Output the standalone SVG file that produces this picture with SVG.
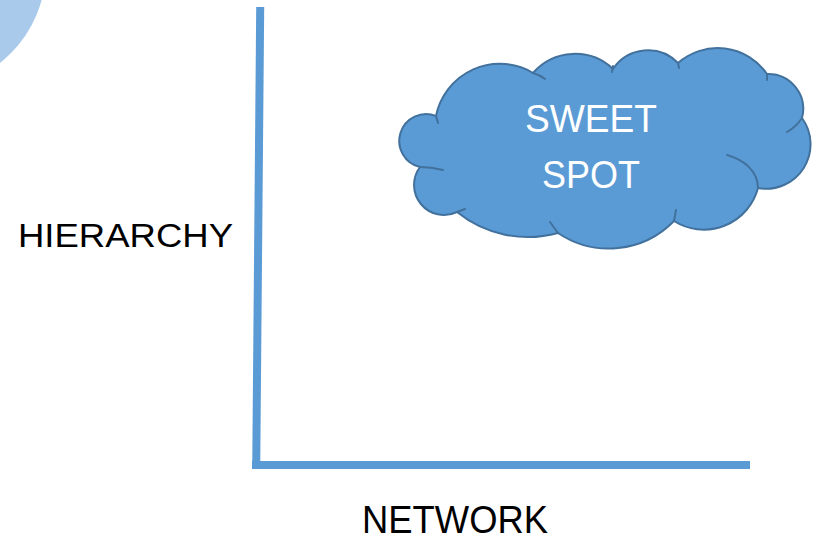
<svg xmlns="http://www.w3.org/2000/svg" width="822" height="540" viewBox="0 0 822 540">
<style>
.axis{stroke:#5B9BD5;stroke-width:8;fill:none;stroke-linecap:butt}
.cloud{fill:#5B9BD5;stroke:#41719C;stroke-width:2;stroke-linejoin:round}
.hook{fill:none;stroke:#41719C;stroke-width:2;stroke-linecap:round}
.lbl{font-family:"Liberation Sans",Arial,sans-serif;fill:#000}
.ctext{font-family:"Liberation Sans",Arial,sans-serif;fill:#FFFFFF;text-anchor:middle}
</style>
<rect width="822" height="540" fill="#FFFFFF"/>
<g id="corner-circle">
<circle cx="-75" cy="-32" r="121" fill="#A9CAEA"/>
</g>
<g id="connectors">
<path class="axis" d="M260.2,7 L256.2,469"/>
<path class="axis" d="M252,465 L750,465"/>
</g>
<g id="sweet-spot">
<path class="cloud" d="M436,116 A65,65 0 0 1 533,73 A55.5,55.5 0 0 1 613,69 A42,42 0 0 1 678,63 A60,60 0 0 1 767,74 A35,35 0 0 1 802,118 A44.5,44.5 0 0 1 758,188 A56,56 0 0 1 674,221 A91,91 0 0 1 558,233 A113,113 0 0 1 457,212 A30,30 0 0 1 420,167 A26.8,26.8 0 1 1 436,116 Z"/>
<path class="hook" d="M436,116 L438,123 M420,167 Q431,167 443,170 M457,212 L465,209 M558,233 L550,222 M674,221 L676,210 M727,155 C745,160 758,172 758,188 M802,118 Q796,127 787,132 M767,74 L767,80 M678,63 L679,68 M613,66 L612,72 M533,73 Q540,75 545,79"/>
<text class="ctext" x="591" y="132" font-size="39" textLength="132" lengthAdjust="spacingAndGlyphs">SWEET</text>
<text class="ctext" x="591" y="188" font-size="39" textLength="98" lengthAdjust="spacingAndGlyphs">SPOT</text>
</g>
<g id="hierarchy-label">
<text class="lbl" x="18" y="247" font-size="33.5" textLength="215" lengthAdjust="spacingAndGlyphs">HIERARCHY</text>
</g>
<g id="network-label">
<text class="lbl" x="362" y="533" font-size="39.5" textLength="186" lengthAdjust="spacingAndGlyphs">NETWORK</text>
</g>
</svg>
